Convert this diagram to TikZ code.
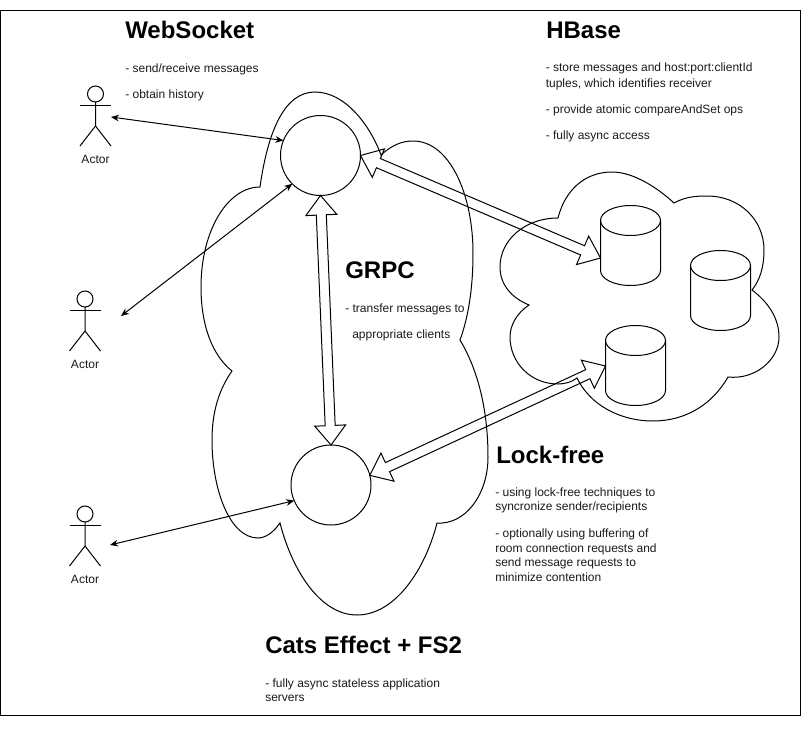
\documentclass[tikz,border=0pt]{standalone}
\usepackage{fontspec}
\setmainfont{Liberation Sans}
\usetikzlibrary{arrows.meta,calc}
\definecolor{txt}{HTML}{1A1A1A}
\tikzset{
  line/.style={draw=black,line width=.75pt},
  title/.style={anchor=west,inner sep=0pt,font=\bfseries\fontsize{18}{20}\selectfont,text=black},
  note/.style={anchor=base west,inner sep=0pt,yshift=-3pt,font=\fontsize{9}{10}\selectfont,text=txt},
  actorlabel/.style={anchor=base,inner sep=0pt,yshift=-3pt,font=\fontsize{9}{10}\selectfont,text=txt},
  server/.style={circle,line,minimum size=60pt,inner sep=0pt,outer sep=0pt},
  actorhead/.style={circle,line,minimum size=12pt,inner sep=0pt,outer sep=0pt},
  store/.style={rectangle,minimum width=45pt,minimum height=60pt,inner sep=0pt,outer sep=0pt},
  thin link/.style={line,{Stealth[length=6pt,width=5pt]}-{Stealth[length=6pt,width=5pt]}},
  block/.style={line,line join=miter}
}
\newcommand\blockarrow[2]{%
  \coordinate (ba) at ($(#1)!14.6pt!(#2)$);
  \coordinate (bb) at ($(#2)!14.6pt!(#1)$);
  \draw[block] (#1) -- ($(ba)!11.6pt!90:(#2)$) -- ($(ba)!3.75pt!90:(#2)$)
    -- ($(bb)!3.75pt!-90:(#1)$) -- ($(bb)!11.6pt!-90:(#1)$) -- (#2)
    -- ($(bb)!11.6pt!90:(#1)$) -- ($(bb)!3.75pt!90:(#1)$)
    -- ($(ba)!3.75pt!-90:(#2)$) -- ($(ba)!11.6pt!-90:(#2)$) -- cycle;}
\newcommand\actorfig[3]{% name, x, head y
  \node[actorhead] (#1head) at (#2,#3) {};
  \draw[line] (#1head.south) -- ++(0,24) coordinate (#1hip) -- ++(-15.5,20);
  \draw[line] (#1hip) -- ++(15.5,20);
  \draw[line] ($(#1head.south)+(-15.5,3)$) -- ++(31,0);
  \node[actorlabel] (#1label) at (#2,#3+65) {Actor};}
\newcommand\storefig[3]{% name, x, y
  \node[store] (#1) at (#2,#3) {};
  \draw[line] ($(#1.center)+(0,-25)$) ellipse [x radius=22.5pt,y radius=11.25pt];
  \draw[line] ($(#1.center)+(-30,-25)$) -- ($(#1.center)+(-30,25)$)
    arc [start angle=180,end angle=360,x radius=22.5pt,y radius=11.25pt]
    -- ($(#1.center)+(30,-25)$);}
\begin{document}
\begin{tikzpicture}[x=.75pt,y=-.75pt]
\useasboundingbox (0,0) rectangle (801,746);
\draw[line] (.5,10.5) rectangle (800,715.5);
% application cloud
\draw[line] (260,187) .. controls (268,130) and (285,92) .. (315,92)
  .. controls (345,92) and (370,125) .. (381,155)
  .. controls (392,145) and (402,141) .. (413,141)
  .. controls (450,141) and (473,195) .. (473,253)
  .. controls (473,290) and (468,318) .. (460,340)
  .. controls (478,370) and (488,410) .. (488,457)
  .. controls (488,495) and (465,525) .. (437,523)
  .. controls (425,570) and (395,615) .. (357,615)
  .. controls (320,615) and (292,570) .. (280,523)
  .. controls (273,533) and (265,538) .. (258,538)
  .. controls (230,538) and (212,490) .. (212,440)
  .. controls (212,410) and (220,388) .. (232,371)
  .. controls (212,355) and (201,325) .. (201,287)
  .. controls (201,230) and (228,187) .. (260,187) -- cycle;
% storage cloud
\draw[line] (558,218) .. controls (565,190) and (585,172) .. (612,172)
  .. controls (635,172) and (660,190) .. (674,203)
  .. controls (685,197) and (695,196) .. (707,196)
  .. controls (740,196) and (764,220) .. (764,250)
  .. controls (764,267) and (760,280) .. (752,290)
  .. controls (768,302) and (779,318) .. (779,337)
  .. controls (779,360) and (755,380) .. (728,377)
  .. controls (712,405) and (685,421) .. (653,421)
  .. controls (620,421) and (590,405) .. (577,378)
  .. controls (572,382) and (565,384) .. (558,384)
  .. controls (530,384) and (510,362) .. (510,337)
  .. controls (510,325) and (517,313) .. (529,305)
  .. controls (512,298) and (500,285) .. (500,267)
  .. controls (500,240) and (525,218) .. (558,218) -- cycle;
% servers and stores
\node[server] (s1) at (320.5,155.5) {};
\node[server] (s2) at (331,485) {};
\storefig{d1}{630.5}{245.5}
\storefig{d2}{720.5}{290.5}
\storefig{d3}{635.5}{365.5}
% actors
\actorfig{a1}{95.5}{94}
\actorfig{a2}{85}{299}
\actorfig{a3}{85}{514}
\coordinate (a1port) at (111,117);
\coordinate (a2port) at (121,316);
\coordinate (a3port) at (110,545);
% links
\draw[thin link] (a1port) -- (s1.158);
\draw[thin link] (a2port) -- (s1.225);
\draw[thin link] (a3port) -- (s2.203);
\coordinate (s1e) at (s1.east);
\coordinate (s1s) at (s1.south);
\coordinate (s2n) at (s2.north);
\coordinate (s2r) at (s2.14);
\coordinate (d1p) at ($(d1.center)+(-30,12.5)$);
\coordinate (d3p) at ($(d3.center)+(-30,0.5)$);
\blockarrow{s1e}{d1p}
\blockarrow{s1s}{s2n}
\blockarrow{s2r}{d3p}
% texts
\node[title] (t1) at (125,30) {WebSocket};
\node[note] (n1) at (125,68) {- send/receive messages};
\node[note] (n2) at (125,94) {- obtain history};
\node[title] (t2) at (546,30) {HBase};
\node[note] (n3) at (545.5,67) {- store messages and host:port:clientId};
\node[note] (n4) at (545.5,83.5) {tuples, which identifies receiver};
\node[note] (n5) at (545.5,109) {- provide atomic compareAndSet ops};
\node[note] (n6) at (545.5,135) {- fully async access};
\node[title] (t3) at (345,270) {GRPC};
\node[note] (n7) at (345,308) {- transfer messages to};
\node[note] (n8) at (352,334) {appropriate clients};
\node[title] (t4) at (496,455) {Lock-free};
\node[note] (n9) at (495,492) {- using lock-free techniques to};
\node[note] (n10) at (495,506) {syncronize sender/recipients};
\node[note] (n11) at (495,533) {- optionally using buffering of};
\node[note] (n12) at (495,548) {room connection requests and};
\node[note] (n13) at (495,562) {send message requests to};
\node[note] (n14) at (495,577) {minimize contention};
\node[title] (t5) at (265,645) {Cats Effect + FS2};
\node[note] (n15) at (265,683) {- fully async stateless application};
\node[note] (n16) at (265,697) {servers};
\end{tikzpicture}
\end{document}
